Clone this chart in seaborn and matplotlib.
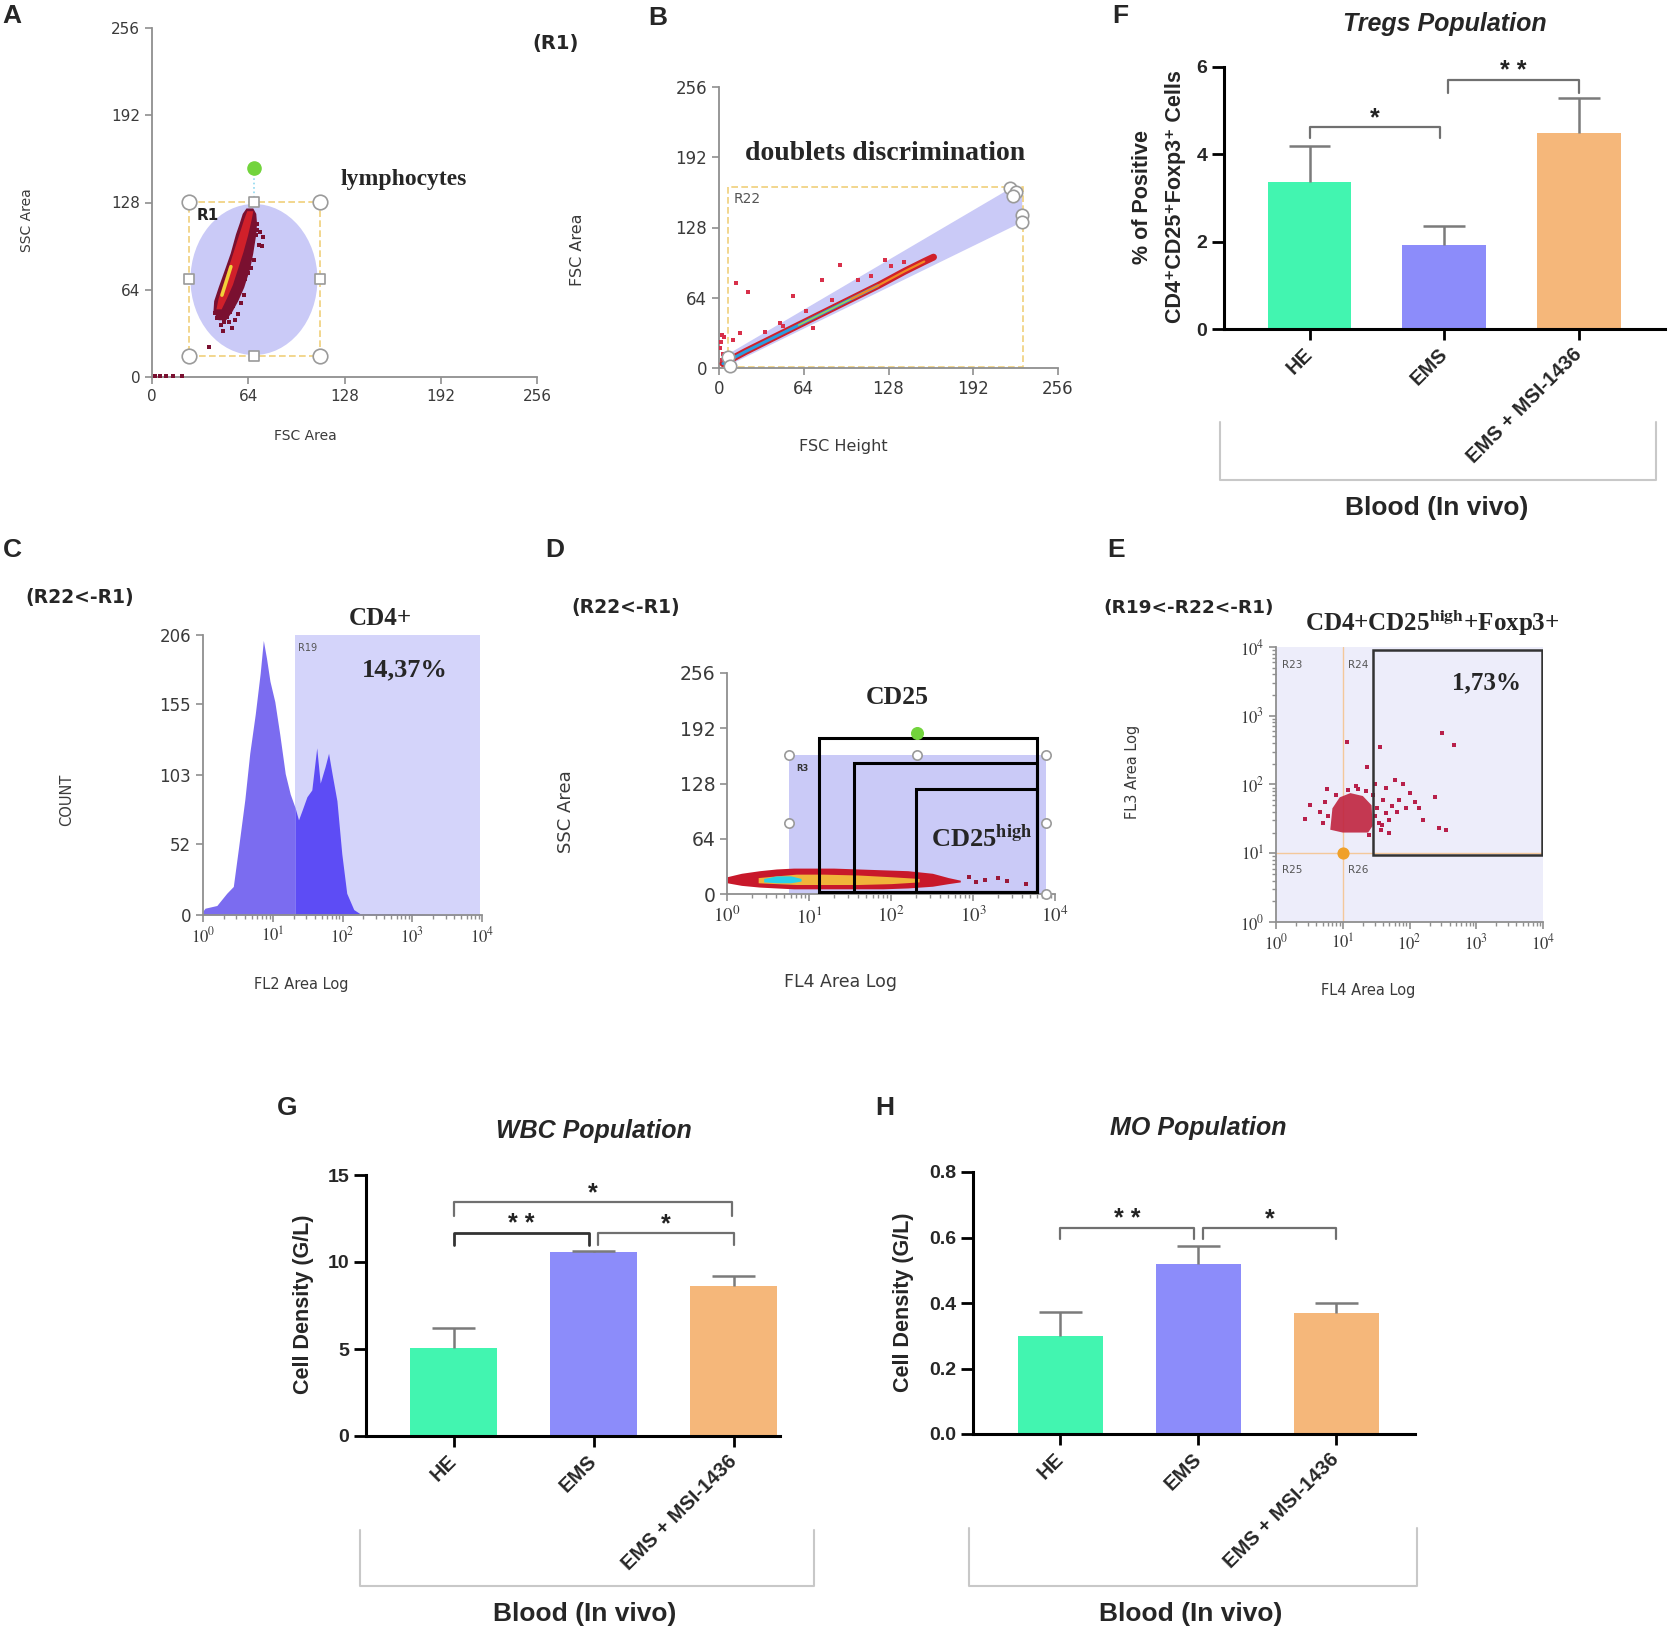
import seaborn as sns
import matplotlib.pyplot as plt
from matplotlib.lines import Line2D
from matplotlib.patches import Ellipse, Rectangle, Polygon

# ------------------------------
# Data
# ------------------------------
groups = ["HE", "EMS", "EMS + MSI-1436"]
bar_colors = ["#42f5b0", "#8c8cfa", "#f5b77a"]

tregs_mean = [3.37, 1.92, 4.49]
tregs_sem = [0.82, 0.44, 0.80]
wbc_mean = [5.06, 10.55, 8.64]
wbc_sem = [1.17, 0.07, 0.56]
mo_mean = [0.298, 0.519, 0.370]
mo_sem = [0.075, 0.054, 0.030]

# significance brackets: (from, to, top, leg end, label, colour, width)
tregs_sig = [(0, 0.97, 4.63, 4.37, "*", "#707070", 1.6),
             (1.03, 2, 5.70, 5.40, "* *", "#707070", 1.6)]
wbc_sig = [(0, 1.99, 13.42, 12.64, "*", "#707070", 1.6),
           (0, 0.97, 11.67, 10.95, "* *", "#333333", 2.0),
           (1.03, 2, 11.67, 10.95, "*", "#707070", 1.6)]
mo_sig = [(0, 0.97, 0.630, 0.594, "* *", "#707070", 1.6),
          (1.03, 2, 0.630, 0.594, "*", "#707070", 1.6)]

# A: lymphocyte cloud (FSC area vs SSC area)
a_env_y = [42, 48, 56, 66, 80, 91, 105, 113, 120, 124]
a_env_left = [44, 40.5, 41, 44, 48.5, 52, 55.5, 58, 60, 62.5]
a_env_right = [49, 53, 57, 61, 65, 67, 69, 69.5, 69, 67]
a_core_y = [50, 58, 68, 80, 92, 104, 116, 122]
a_core_left = [42.5, 44, 47, 50.5, 54, 57.5, 61, 63]
a_core_right = [46, 49.5, 53.5, 57, 60.5, 63.5, 66, 67]
a_hot_x = [46.5, 48.5, 50.5, 52.5]
a_hot_y = [60, 67, 74, 81]
a_sp_x = [63, 65, 67, 69, 70, 72, 74, 68, 71, 66, 64, 62, 60, 58, 56, 54, 52, 50,
          48, 46, 47, 53, 57, 61, 59, 55, 51, 49, 45, 43, 42, 70, 73, 66, 62, 38,
          2, 5, 9, 14, 20]
a_sp_y = [90, 95, 100, 104, 108, 106, 103, 86, 97, 80, 76, 72, 68, 62, 58, 52, 48, 44,
          40, 38, 34, 36, 46, 60, 54, 42, 40, 50, 46, 43, 47, 112, 96, 110, 84, 22,
          1, 1, 1, 1, 1]

# B: FSC height vs FSC area
b_line_x = [3, 20, 40, 60, 80, 100, 120, 140, 155, 162]
b_line_y = [4, 15, 27, 39, 51, 63, 75, 88, 97, 101]
b_out_x = [12.6, 22, 56, 77.6, 91, 125, 130, 46, 71, 16, 10.7, 1.5, 3, 2, 1, 4,
           2.5, 35, 48, 66, 85, 105, 115, 140]
b_out_y = [77, 69.5, 66, 80, 94, 98, 92.6, 41, 36, 32, 25.5, 24, 13, 7, 18, 28,
           30, 33, 38, 52, 62, 80, 84, 97]

# C: CD4 histogram (FL2 area log)
c_x = [1.0, 1.07, 1.58, 2.19, 2.72, 3.24, 3.98, 4.68, 5.62, 6.61, 7.33, 8.13, 9.12,
       10.7, 12.6, 15.1, 17.8, 20.9, 23.4, 26.3, 30.9, 36.3, 42.7, 47.9, 56.2, 63.1,
       70.8, 83.2, 97.7, 115, 145, 178, 500, 2000, 9300]
c_count = [3, 5, 7, 16, 21, 50, 85, 119, 148, 178, 202, 189, 172, 157, 133, 104, 89,
           79, 70, 77, 87, 92, 123, 97, 109, 119, 104, 84, 45, 16, 4, 1, 1, 0.5, 0]

# D: CD25 band (FL4 area log vs SSC area)
d_x = [1.0, 1.5, 2.5, 4, 6.5, 10, 20, 40, 80, 160, 320, 500, 700]
d_lo = [13, 10, 8, 7, 6, 6, 6, 6, 6, 7, 9, 12, 14]
d_hi = [20, 24, 27, 29, 30, 30, 30, 29, 28, 27, 24, 19, 16]
d_mid_x = [2.4, 4, 7, 15, 40, 100, 220]
d_mid_lo = [13, 12, 11, 11, 11, 12, 14]
d_mid_hi = [19, 21, 23, 23, 22, 20, 18]
d_core_x = [2.8, 4, 6, 8]
d_core_lo = [14, 13, 13, 15]
d_core_hi = [18, 21, 21, 18]
d_sp_x = [900, 1100, 1400, 2000, 2600, 4400]
d_sp_y = [20, 14, 16, 18, 15, 12]

# E: FL4 vs FL3 (log / log)
e_core_x = [6.5, 7, 9, 13, 20, 27, 28, 24, 10]
e_core_y = [22, 45, 65, 75, 68, 50, 25, 20, 20]
e_sp_x = [302, 457, 36, 11.5, 23, 60, 79, 245, 275, 347, 141, 100, 55, 39, 24.5, 49,
          2.7, 3.2, 5.9, 4.5, 5, 5.5, 6, 30, 33, 35, 40, 45, 28, 22, 17, 12, 8, 38,
          50, 65, 70, 90, 120, 160, 30, 45, 16]
e_sp_y = [562, 380, 355, 417, 182, 115, 100, 65, 23, 22, 46, 74, 48, 26, 18.6, 19.5,
          31.6, 50, 87, 40, 28, 55, 35, 35, 45, 28, 60, 38, 70, 80, 85, 82, 70, 22,
          30, 40, 60, 45, 55, 30, 100, 90, 95]

log_ticks = [1, 10, 100, 1000, 10000]
log_labels = [r"$10^{0}$", r"$10^{1}$", r"$10^{2}$", r"$10^{3}$", r"$10^{4}$"]

# ------------------------------
# Figure helpers
# ------------------------------
W, H = 1670, 1634
sns.set_theme(style="white")
plt.rcParams["font.family"] = ["DejaVu Sans"]
plt.rcParams["mathtext.fontset"] = "stix"

SANS = ["Liberation Sans", "DejaVu Sans"]
SERIF = ["Liberation Serif", "DejaVu Serif"]
GATE = "#cacaf7"
DARK = "#3a3a3a"

fig = plt.figure(figsize=(W / 100, H / 100), dpi=100)


def box(x0, y0, x1, y1):
    return fig.add_axes([x0 / W, 1 - y1 / H, (x1 - x0) / W, (y1 - y0) / H])


def put(x, y, s, **kw):
    fig.text(x / W, 1 - y / H, s, **kw)


def fline(xs, ys, **kw):
    fig.add_artist(Line2D([v / W for v in xs], [1 - v / H for v in ys],
                          transform=fig.transFigure, **kw))


def flow_style(ax, size):
    sns.despine(ax=ax)
    for side in ("left", "bottom"):
        ax.spines[side].set_color("#8f8f8f")
        ax.spines[side].set_linewidth(1.3)
    ax.tick_params(which="both", bottom=True, left=True, direction="out",
                   color="#8f8f8f", labelcolor=DARK, labelsize=size)
    ax.tick_params(which="major", length=5, width=1.2)
    ax.tick_params(which="minor", length=3, width=1)


def handles(ax, xs, ys, marker="o", s=110):
    ax.scatter(xs, ys, marker=marker, s=s, color="white", edgecolor="#9a9a9a",
               linewidth=1.2, zorder=8, clip_on=False)


def letter(x, y, s):
    put(x, y, s, fontsize=19, fontweight="bold", family=SANS, va="top", ha="left")


# ------------------------------
# A: lymphocytes gate
# ------------------------------
axA = box(152, 28, 537, 377)
axA.set_xlim(0, 256)
axA.set_ylim(0, 256)
axA.add_patch(Ellipse((67.8, 71.5), 84.4, 110.8, fc=GATE, ec="none", zorder=1))
axA.add_patch(Rectangle((24.6, 15.4), 86.8, 113, fill=False, ec="#f0cf7a",
                        ls=(0, (4, 2)), lw=1.2, zorder=2))
sns.scatterplot(x=a_sp_x, y=a_sp_y, color="#7a1030", marker="s", s=10,
                linewidth=0, ax=axA, zorder=3)
axA.fill_betweenx(a_env_y, a_env_left, a_env_right, color="#7a1030", lw=0, zorder=4)
axA.fill_betweenx(a_core_y, a_core_left, a_core_right, color="#d0202a", lw=0, zorder=5)
sns.lineplot(x=a_hot_x, y=a_hot_y, color="#f0d23a", lw=2.5, sort=False,
             estimator=None, ax=axA, zorder=6)
axA.plot([68, 68], [128.4, 153], color="#8fd8f0", ls=":", lw=1.2, zorder=6)
axA.scatter([68], [153], s=90, color="#72d43c", zorder=9)
handles(axA, [24.6, 111.4, 24.6, 111.4], [15.4, 15.4, 128.4, 128.4])
handles(axA, [68, 68, 24.6, 111.4], [15.4, 128.4, 72, 72], marker="s", s=55)
axA.text(30, 115, "R1", fontsize=11, fontweight="bold", color="#222222", zorder=9)
axA.set_xticks([0, 64, 128, 192, 256])
axA.set_yticks([0, 64, 128, 192, 256])
flow_style(axA, 11)
put(27, 220, "SSC Area", rotation=90, fontsize=10, color=DARK, ha="center", va="center")
put(305, 436, "FSC Area", fontsize=10, color=DARK, ha="center", va="center")
put(341, 180, "lymphocytes", fontsize=17, fontweight="bold", family=SERIF, va="center")
put(532, 43, "(R1)", fontsize=14, fontweight="bold", va="center")
letter(2, 4, "A")

# ------------------------------
# B: doublets discrimination
# ------------------------------
axB = box(719, 87, 1058, 368)
axB.set_xlim(0, 256)
axB.set_ylim(0, 256)
axB.add_patch(Polygon([(6, 12), (222, 165), (229, 160), (229, 133), (10, 4)],
                      closed=True, fc=GATE, ec="none", zorder=1))
axB.add_patch(Rectangle((6.8, 1), 222.7, 164, fill=False, ec="#f0cf7a",
                        ls=(0, (4, 2)), lw=1.2, zorder=2))
sns.lineplot(x=b_line_x, y=b_line_y, color="#d0202a", lw=5, sort=False,
             estimator=None, ax=axB, zorder=3)
sns.lineplot(x=b_line_x[:7], y=b_line_y[:7], color="#2a9ee0", lw=2.2, sort=False,
             estimator=None, ax=axB, zorder=4)
sns.lineplot(x=b_line_x[3:7], y=b_line_y[3:7], color="#a5d84a", lw=1.0, sort=False,
             estimator=None, ax=axB, zorder=5)
sns.lineplot(x=b_line_x[5:9], y=b_line_y[5:9], color="#f08a24", lw=1.6, sort=False,
             estimator=None, ax=axB, zorder=5)
sns.scatterplot(x=b_out_x, y=b_out_y, color="#d8304a", marker="s", s=6,
                linewidth=0, ax=axB, zorder=4)
handles(axB, [220, 224, 222, 229, 229, 7, 8], [164, 160, 157, 139, 133, 10, 2], s=80)
axB.text(11, 150, "R22", fontsize=10, color="#555555", zorder=9)
axB.set_xticks([0, 64, 128, 192, 256])
axB.set_yticks([0, 64, 128, 192, 256])
flow_style(axB, 12)
put(577, 250, "FSC Area", rotation=90, fontsize=11.5, color=DARK, ha="center", va="center")
put(843, 447, "FSC Height", fontsize=11.5, color=DARK, ha="center", va="center")
put(745, 153, "doublets discrimination", fontsize=20, fontweight="bold", family=SERIF,
    va="center")
letter(648, 6, "B")

# ------------------------------
# C: CD4+ histogram
# ------------------------------
axC = box(203, 635, 482, 915)
axC.set_xscale("log")
axC.set_xlim(1, 1e4)
axC.set_ylim(0, 206)
axC.add_patch(Rectangle((20.9, 0), 9333 - 20.9, 206, fc="#d4d4fa", ec="none", zorder=1))
axC.fill_between(c_x[:18], c_count[:18], color="#7b6cf0", lw=0, zorder=2)
axC.fill_between(c_x[17:], c_count[17:], color="#5d4cf5", lw=0, zorder=2)
axC.text(23, 194, "R19", fontsize=7, color="#555555", zorder=3)
axC.set_xticks(log_ticks)
axC.set_xticklabels(log_labels)
axC.set_yticks([0, 52, 103, 155, 206])
flow_style(axC, 12)
put(67, 800, "COUNT", rotation=90, fontsize=10.5, color=DARK, ha="center", va="center")
put(301, 985, "FL2 Area Log", fontsize=10.5, color=DARK, ha="center", va="center")
put(25, 597, "(R22<-R1)", fontsize=13.5, fontweight="bold", va="center")
put(380, 618, "CD4+", fontsize=18, fontweight="bold", family=SERIF, ha="center", va="center")
put(405, 670, "14,37%", fontsize=19, fontweight="bold", family=SERIF, ha="center",
    va="center")
letter(3, 538, "C")

# ------------------------------
# D: CD25 / CD25 high gates
# ------------------------------
axD = box(727, 673, 1055, 894)
axD.set_xscale("log")
axD.set_xlim(1, 1e4)
axD.set_ylim(0, 256)
axD.add_patch(Rectangle((5.7, 0), 7760 - 5.7, 161, fc=GATE, ec="none", zorder=1))
axD.fill_between(d_x, d_lo, d_hi, color="#c8182a", lw=0, zorder=2)
axD.fill_between(d_mid_x, d_mid_lo, d_mid_hi, color="#f0b43a", lw=0, zorder=3)
axD.fill_between(d_core_x, d_core_lo, d_core_hi, color="#2ad0e8", lw=0, zorder=4)
sns.scatterplot(x=d_sp_x, y=d_sp_y, color="#9a1838", marker="s", s=6,
                linewidth=0, ax=axD, zorder=4)
for left, top in [(13.2, 181), (35.5, 152), (200, 122)]:
    axD.add_patch(Rectangle((left, 2), 6030 - left, top - 2, fill=False, ec="black",
                            lw=2.2, zorder=6))
handles(axD, [5.7, 209, 7760, 5.7, 7760, 7760], [161, 161, 161, 82, 82, 0], s=45)
axD.scatter([209], [187], s=70, color="#72d43c", zorder=9)
axD.text(7.0, 143, "R3", fontsize=6, fontweight="bold", color="#333333", zorder=7)
axD.set_xticks(log_ticks)
axD.set_xticklabels(log_labels)
axD.set_yticks([0, 64, 128, 192, 256])
flow_style(axD, 13.5)
put(566, 812, "SSC Area", rotation=90, fontsize=13, color=DARK, ha="center", va="center")
put(840, 982, "FL4 Area Log", fontsize=12.5, color=DARK, ha="center", va="center")
put(571, 607, "(R22<-R1)", fontsize=13.5, fontweight="bold", va="center")
put(897, 697, "CD25", fontsize=18.5, fontweight="bold", family=SERIF, ha="center",
    va="center")
put(931, 838, r"CD25$^{\mathbf{high}}$", fontsize=19, fontweight="bold", family=SERIF,
    va="center")
letter(545, 538, "D")

# ------------------------------
# E: CD4+CD25high+Foxp3+
# ------------------------------
axE = box(1276, 647, 1543, 922)
axE.set_xscale("log")
axE.set_yscale("log")
axE.set_xlim(1, 1e4)
axE.set_ylim(1, 1e4)
axE.set_facecolor("#ededfa")
axE.axvline(10, color="#f4c89a", lw=1, zorder=1)
axE.axhline(10, color="#f4c89a", lw=1, zorder=1)
axE.add_patch(Polygon(list(zip(e_core_x, e_core_y)), closed=True, fc="#c0243f",
                      ec="none", alpha=0.9, zorder=2))
sns.scatterplot(x=e_sp_x, y=e_sp_y, color="#b8204a", marker="s", s=7,
                linewidth=0, ax=axE, zorder=3)
axE.add_patch(Rectangle((28.8, 9.3), 9770 - 28.8, 8900 - 9.3, fill=False, ec="#333333",
                        lw=1.8, zorder=4))
axE.scatter([10], [10], s=60, color="#f0a028", zorder=5)
for tx, ty, lab in [(1.25, 5000, "R23"), (12, 5000, "R24"), (1.25, 5.2, "R25"),
                    (12, 5.2, "R26")]:
    axE.text(tx, ty, lab, fontsize=7.5, color="#555555", zorder=6)
axE.set_xticks(log_ticks)
axE.set_xticklabels(log_labels)
axE.set_yticks(log_ticks)
axE.set_yticklabels(log_labels)
flow_style(axE, 12)
put(1133, 772, "FL3 Area Log", rotation=90, fontsize=10.5, color=DARK, ha="center",
    va="center")
put(1368, 990, "FL4 Area Log", fontsize=10.5, color=DARK, ha="center", va="center")
put(1103, 608, "(R19<-R22<-R1)", fontsize=13.3, fontweight="bold", va="center")
put(1305, 623, r"CD4+CD25$^{\mathbf{high}}$+Foxp3+", fontsize=18, fontweight="bold",
    family=SERIF, va="center")
put(1487, 683, "1,73%", fontsize=18, fontweight="bold", family=SERIF, ha="center",
    va="center")
letter(1107, 538, "E")


# ------------------------------
# F, G, H: bar charts
# ------------------------------
def bar_panel(ax, means, sems, sig, ymax, yticks, ylabels, xlim):
    sns.barplot(x=groups, y=means, hue=groups, palette=bar_colors, saturation=1,
                width=0.62, legend=False, linewidth=0, ax=ax, zorder=2)
    # upper error bar only, cap on top
    tops = [m + s for m, s in zip(means, sems)]
    ax.vlines(range(3), means, tops, color="#7b7b7b", lw=1.8, zorder=3)
    ax.hlines(tops, [i - 0.155 for i in range(3)], [i + 0.155 for i in range(3)],
              color="#7b7b7b", lw=1.8, zorder=3)
    for x0, x1, top, leg, lab, col, lw in sig:
        ax.plot([x0, x0, x1, x1], [leg, top, top, leg], color=col, lw=lw,
                clip_on=False, zorder=4)
        ax.annotate(lab, ((x0 + x1) / 2, top + 0.06 * ymax), xytext=(0, -10),
                    textcoords="offset points", ha="center", va="baseline",
                    fontsize=18, fontweight="bold", family=SANS, color="#222222",
                    annotation_clip=False)
    ax.set_xlim(*xlim)
    ax.set_ylim(0, ymax)
    ax.set_yticks(yticks)
    ax.set_yticklabels(ylabels, fontsize=14, fontweight="bold", family=SANS)
    ax.set_xticks(range(3))
    ax.set_xticklabels(groups, rotation=45, ha="right", va="center",
                       rotation_mode="anchor", fontsize=14.5, fontweight="bold",
                       family=SANS)
    ax.set_xlabel("")
    ax.set_ylabel("")
    sns.despine(ax=ax)
    for side in ("left", "bottom"):
        ax.spines[side].set_color("black")
        ax.spines[side].set_linewidth(2.2)
    ax.tick_params(axis="y", left=True, direction="out", length=9, width=2,
                   color="black", pad=3)
    ax.tick_params(axis="x", bottom=True, direction="out", length=8, width=2,
                   color="black", pad=8)


def group_bracket(x0, x1, y0, y1, cx, cy):
    fline([x0, x0, x1, x1], [y0, y1, y1, y0], color="#c8c8c8", lw=1.5)
    put(cx, cy, "Blood (In vivo)", fontsize=19, fontweight="bold", family=SANS,
        ha="center", va="center")


def title(x, y, s):
    put(x, y, s, fontsize=18, fontweight="bold", fontstyle="italic", family=SANS,
        ha="center", va="center")


axF = box(1224, 67, 1665, 329)
bar_panel(axF, tregs_mean, tregs_sem, tregs_sig, 6, [0, 2, 4, 6],
          ["0", "2", "4", "6"], (-0.635, 2.64))
title(1445, 24, "Tregs Population")
put(1142, 197, "% of Positive", rotation=90, fontsize=15.5, fontweight="bold",
    family=SANS, ha="center", va="center")
put(1176, 197, "CD4⁺CD25⁺Foxp3⁺ Cells", rotation=90, fontsize=15.5, fontweight="bold",
    family=SANS, ha="center", va="center")
group_bracket(1220, 1656, 422, 480, 1437, 508)
letter(1112, 4, "F")

axG = box(366, 1175, 780, 1436)
bar_panel(axG, wbc_mean, wbc_sem, wbc_sig, 15, [0, 5, 10, 15],
          ["0", "5", "10", "15"], (-0.625, 2.33))
title(594, 1131, "WBC Population")
put(303, 1304, "Cell Density (G/L)", rotation=90, fontsize=15.5, fontweight="bold",
    family=SANS, ha="center", va="center")
group_bracket(360, 814, 1530, 1586, 585, 1614)
letter(277, 1096, "G")

axH = box(973, 1172, 1415, 1434)
bar_panel(axH, mo_mean, mo_sem, mo_sig, 0.8, [0, 0.2, 0.4, 0.6, 0.8],
          ["0.0", "0.2", "0.4", "0.6", "0.8"], (-0.634, 2.57))
title(1198, 1128, "MO Population")
put(904, 1302, "Cell Density (G/L)", rotation=90, fontsize=15.5, fontweight="bold",
    family=SANS, ha="center", va="center")
group_bracket(969, 1417, 1528, 1586, 1191, 1614)
letter(875, 1096, "H")

fig.savefig("out.png", dpi=100)
